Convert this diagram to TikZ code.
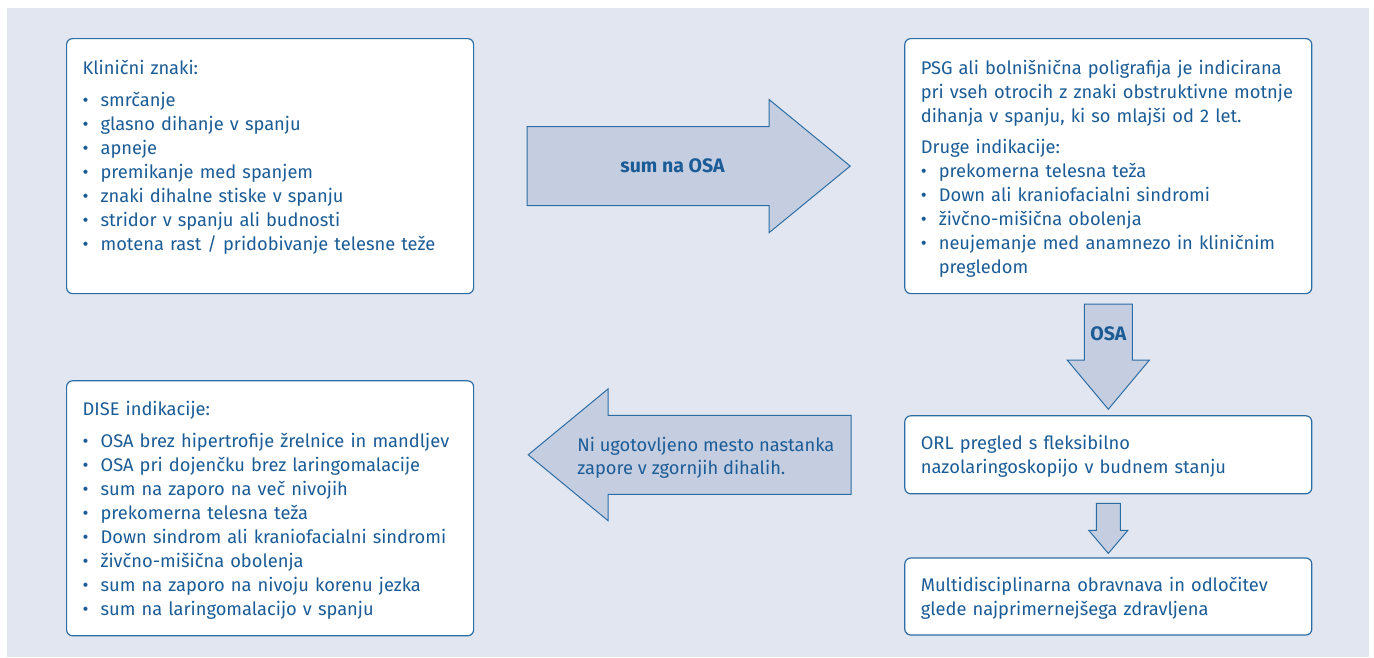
\documentclass[tikz,border=0pt]{standalone}
\usepackage{fontspec}
\setmainfont{Fira Sans}
\usepackage{tikz}
\usetikzlibrary{positioning,calc}
\definecolor{OSABlue}{HTML}{1C5C96}
\definecolor{OSALine}{HTML}{2D6DA6}
\definecolor{OSABack}{HTML}{E1E6F0}
\definecolor{OSAFill}{HTML}{C5CEE1}
\newcommand{\itm}{\makebox[18pt][l]{•}}

\begin{document}
\begin{tikzpicture}[x=1pt,y=-1pt,
    node distance=86pt and 430pt,
    box/.style={rounded corners=6pt,draw=OSALine,line width=1.2pt,fill=white,
                text width=375pt,align=left,inner xsep=16pt,inner ysep=0pt,
                font=\fontsize{18.3pt}{24pt}\selectfont,text=OSABlue},
    blockarrow/.style={draw=OSALine,fill=OSAFill,line width=1pt,line join=miter},
    arrowtext/.style={font=\fontsize{18.3pt}{23pt}\selectfont,text=OSABlue,
                      align=left,inner sep=0pt}]

    \useasboundingbox (0,0) rectangle (1374,657);
    \fill[OSABack] (7,8) rectangle (1369,657);

    \node[box,anchor=north west,text height=36pt,text depth=219pt] (clin) at (66,38)
      {Klinični znaki:\\[8pt]
       \itm smrčanje\\
       \itm glasno dihanje v spanju\\
       \itm apneje\\
       \itm premikanje med spanjem\\
       \itm znaki dihalne stiske v spanju\\
       \itm stridor v spanju ali budnosti\\
       \itm motena rast / pridobivanje telesne teže};
    \node[box,right=of clin,text height=36pt,text depth=219pt] (psg)
      {PSG ali bolnišnična poligrafija je indicirana\\
       pri vseh otrocih z znaki obstruktivne motnje\\
       dihanja v spanju, ki so mlajši od 2 let.\\[7pt]
       Druge indikacije:\\
       \itm prekomerna telesna teža\\
       \itm Down ali kraniofacialni sindromi\\
       \itm živčno-mišična obolenja\\
       \itm neujemanje med anamnezo in kliničnim\\
       \hspace*{18pt}pregledom};
    \node[box,below=of clin,text height=35pt,text depth=220pt] (dise)
      {DISE indikacije:\\[8pt]
       \itm OSA brez hipertrofije žrelnice in mandljev\\
       \itm OSA pri dojenčku brez laringomalacije\\
       \itm sum na zaporo na več nivojih\\
       \itm prekomerna telesna teža\\
       \itm Down sindrom ali kraniofacialni sindromi\\
       \itm živčno-mišična obolenja\\
       \itm sum na zaporo na nivoju korenu jezka\\
       \itm sum na laringomalacijo v spanju};
    \node[box,below=121pt of psg,text height=34pt,text depth=44pt] (orl)
      {ORL pregled s fleksibilno\\
       nazolaringoskopijo v budnem stanju};
    \node[box,below=63pt of orl,text height=33pt,text depth=44pt] (multi)
      {Multidisciplinarna obravnava in odločitev\\
       glede najprimernejšega zdravljena};

    % clin -> psg
    \coordinate (r1) at ($(clin.east)+(53,0)$);
    \coordinate (r2) at ($(psg.west)+(-54,0)$);
    \draw[blockarrow] ($(r1)+(0,-39.5)$) -- ($(r2)+(-81,-39.5)$)
      -- ($(r2)+(-81,-66.5)$) -- (r2) -- ($(r2)+(-81,66.5)$)
      -- ($(r2)+(-81,39.5)$) -- ($(r1)+(0,39.5)$) -- cycle;
    \node[arrowtext,font=\fontsize{19.5pt}{23pt}\selectfont\bfseries] (sum)
      at ($(r1)!0.45!(r2)$) {sum na OSA};

    % psg -> orl
    \coordinate (d1) at ($(psg.south)+(0,10)$);
    \coordinate (d2) at ($(orl.north)+(0,-6)$);
    \draw[blockarrow] ($(d1)+(-24,0)$) -- ($(d1)+(24,0)$)
      -- ($(d2)+(24,-49)$) -- ($(d2)+(41,-49)$) -- (d2)
      -- ($(d2)+(-41,-49)$) -- ($(d2)+(-24,-49)$) -- cycle;
    \node[arrowtext,font=\fontsize{19.5pt}{23pt}\selectfont\bfseries] (osa)
      at ($(d1)+(0,30)$) {OSA};

    % orl -> multi
    \coordinate (d3) at ($(orl.south)+(0,9)$);
    \coordinate (d4) at ($(multi.north)+(0,-4)$);
    \draw[blockarrow] ($(d3)+(-12,0)$) -- ($(d3)+(12,0)$)
      -- ($(d4)+(12,-23)$) -- ($(d4)+(19.5,-23)$) -- (d4)
      -- ($(d4)+(-19.5,-23)$) -- ($(d4)+(-12,-23)$) -- cycle;

    % orl -> dise
    \coordinate (l1) at ($(dise.east |- orl.west)+(54,0)$);
    \coordinate (l2) at ($(orl.west)+(-53,0)$);
    \draw[blockarrow] (l1) -- ($(l1)+(80,-66)$) -- ($(l1)+(80,-39.5)$)
      -- ($(l2)+(0,-39.5)$) -- ($(l2)+(0,39.5)$) -- ($(l1)+(80,39.5)$)
      -- ($(l1)+(80,66)$) -- cycle;
    \node[arrowtext,yshift=-3pt] (noloc) at ($(l1)!0.55!(l2)$)
      {Ni ugotovljeno mesto nastanka\\zapore v zgornjih dihalih.};
  \end{tikzpicture}
\end{document}
